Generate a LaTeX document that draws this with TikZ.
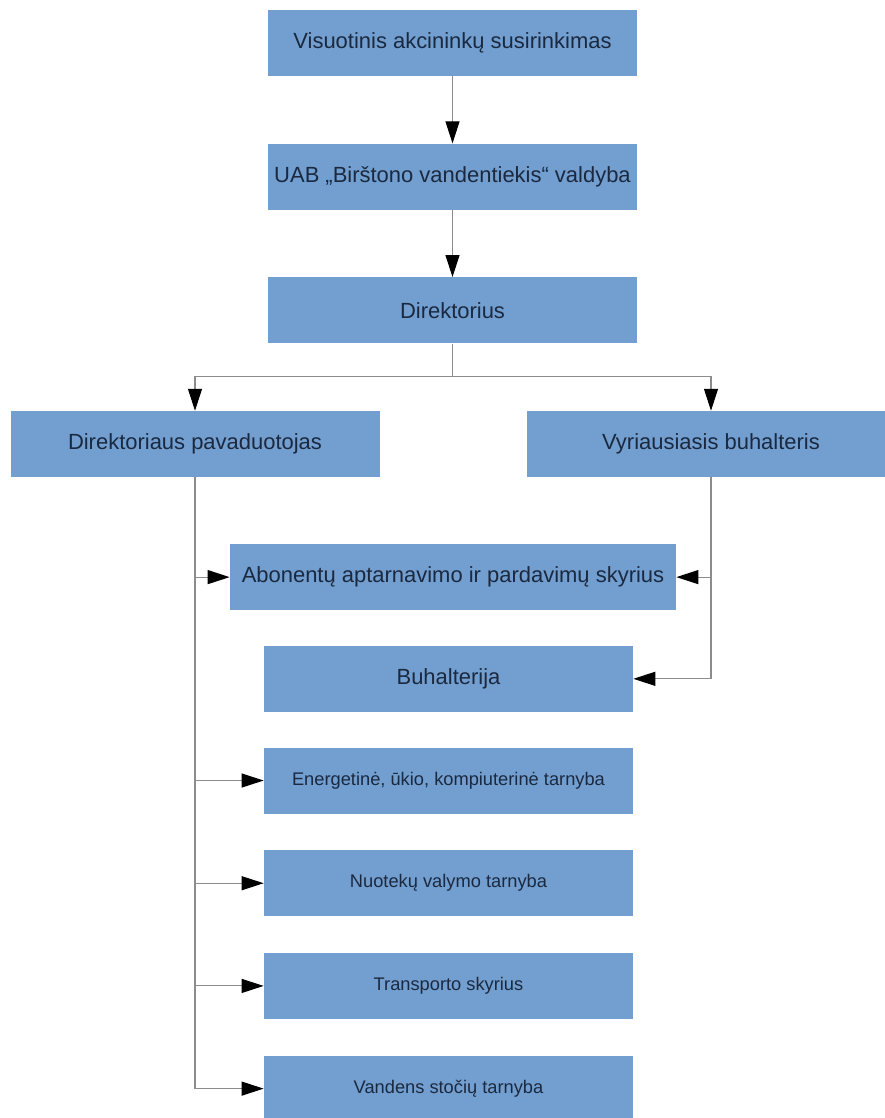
\documentclass[tikz,border=0pt]{standalone}
\usepackage{fontspec}
\setmainfont{Liberation Sans}
\usepackage{tikz}
\usetikzlibrary{positioning, arrows.meta, calc}
\usepackage{xcolor}
\definecolor{boxblue}{HTML}{729FCF}
\definecolor{boxtext}{HTML}{1B2940}
\definecolor{linegray}{HTML}{8C8C8C}

\tikzset{
	unit/.style={rectangle, fill=boxblue, text=boxtext, inner sep=0pt,
		minimum width=7.38cm, minimum height=1.32cm,
		font=\fontsize{12.5pt}{14pt}\selectfont},
	subunit/.style={unit, font=\fontsize{10.4pt}{12pt}\selectfont},
	link/.style={draw=linegray, line width=0.6pt,
		-{Triangle[length=0.44cm, width=0.28cm, fill=black, color=black]}}
}

\begin{document}
\begin{tikzpicture}
						\useasboundingbox (0,0) rectangle (17.7,-22.36);
						\node[unit] (meeting) at (9.05,-0.86) {Visuotinis akcininkų susirinkimas};
						\node[unit, below=1.34cm of meeting] (board) {UAB „Birštono vandentiekis“ valdyba};
						\node[unit, below=1.34cm of board] (dir) {Direktorius};
						\node[unit, below=1.34cm of dir, xshift=-5.15cm] (deputy) {Direktoriaus pavaduotojas};
						\node[unit, below=1.34cm of dir, xshift=5.17cm] (chief) {Vyriausiasis buhalteris};
						\node[unit, minimum width=8.92cm, below=4cm of dir, xshift=0.01cm] (sales) {Abonentų aptarnavimo ir pardavimų skyrius};
						\node[unit, below=0.7cm of sales, xshift=-0.09cm] (acc) {Buhalterija};
						\node[subunit, below=0.7cm of acc] (energy) {Energetinė, ūkio, kompiuterinė tarnyba};
						\node[subunit, below=0.72cm of energy] (waste) {Nuotekų valymo tarnyba};
						\node[subunit, below=0.72cm of waste] (transport) {Transporto skyrius};
						\node[subunit, below=0.72cm of transport] (water) {Vandens stočių tarnyba};
						\draw[link] (meeting) -- (board);
						\draw[link] (board) -- (dir);
						\draw[link] (dir.south) -- ++(0,-0.66) -| (deputy.north);
						\draw[link] (dir.south) -- ++(0,-0.66) -| (chief.north);
						\draw[link] (deputy.south) |- (sales.west);
						\draw[link] (deputy.south) |- (energy.west);
						\draw[link] (deputy.south) |- (waste.west);
						\draw[link] (deputy.south) |- (transport.west);
						\draw[link] (deputy.south) |- (water.west);
						\draw[link] (chief.south) |- (sales.east);
						\draw[link] (chief.south) |- (acc.east);
					\end{tikzpicture}
\end{document}
